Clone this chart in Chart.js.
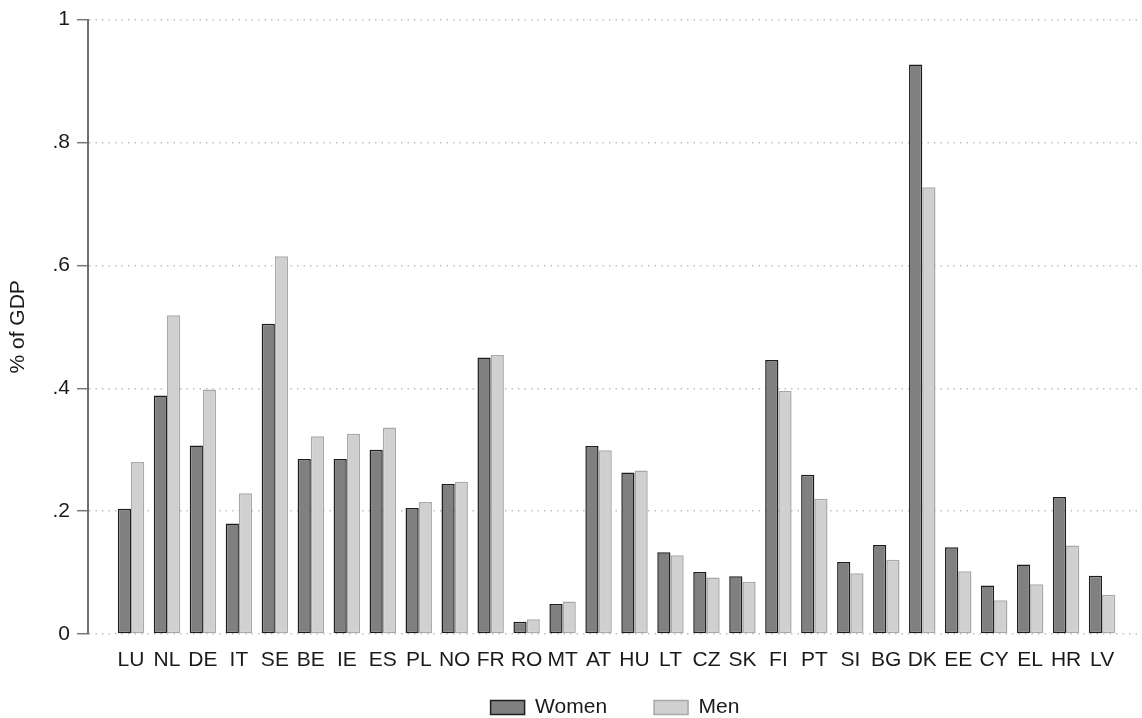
<!DOCTYPE html>
<html>
<head>
<meta charset="utf-8">
<script src="https://cdn.jsdelivr.net/npm/chart.js@4"></script>
<style>
  html, body { margin: 0; padding: 0; background: #fff; overflow: hidden; }
  #wrap { width: 1142px; height: 728px; }
</style>
</head>
<body>
<div id="wrap"><canvas id="chart"></canvas></div>
<script>
// countries in display order
const countries = ['LU', 'NL', 'DE', 'IT', 'SE', 'BE', 'IE', 'ES', 'PL', 'NO', 'FR', 'RO', 'MT', 'AT', 'HU',
    'LT', 'CZ', 'SK', 'FI', 'PT', 'SI', 'BG', 'DK', 'EE', 'CY', 'EL', 'HR', 'LV'];

// % of GDP
const women = [0.204, 0.388, 0.307, 0.180, 0.505, 0.285, 0.285, 0.300, 0.205, 0.244, 0.450, 0.020, 0.049, 0.306,
    0.263, 0.133, 0.101, 0.094, 0.446, 0.259, 0.117, 0.145, 0.927, 0.141, 0.079, 0.113, 0.223, 0.095];
const men = [0.280, 0.519, 0.398, 0.229, 0.615, 0.322, 0.326, 0.336, 0.215, 0.248, 0.454, 0.024, 0.053, 0.299,
    0.266, 0.128, 0.092, 0.085, 0.396, 0.220, 0.099, 0.121, 0.727, 0.102, 0.055, 0.081, 0.144, 0.064];

const yTicks = [0, 0.2, 0.4, 0.6, 0.8, 1];

const font = "'Liberation Sans', Arial, sans-serif";

// bars on a linear x axis so the first group can sit away from the y axis
function toPoints(values) {
    return values.map((v, i) => ({ x: i, y: v }));
}

new Chart(document.getElementById('chart').getContext('2d'), {
    type: 'bar',
    data: {
        datasets: [
            {
                label: 'Women',
                data: toPoints(women),
                backgroundColor: '#808080',
                borderColor: '#1e1e1e',
                borderWidth: 1.5,
                borderSkipped: false,
                categoryPercentage: 0.735,
                barPercentage: 1.0,
            },
            {
                label: 'Men',
                data: toPoints(men),
                backgroundColor: '#d0d0d0',
                borderColor: '#a8a8a8',
                borderWidth: 1.5,
                borderSkipped: false,
                categoryPercentage: 0.735,
                barPercentage: 1.0,
            },
        ],
    },
    options: {
        responsive: true,
        maintainAspectRatio: false,
        animation: false,
        layout: { padding: { left: 0, right: 0, top: 1, bottom: 0 } },
        plugins: {
            tooltip: { enabled: false },
            legend: {
                position: 'bottom',
                fullSize: false,
                labels: {
                    boxWidth: 34,
                    boxHeight: 14,
                    padding: 47,
                    color: '#1a1a1a',
                    font: { family: font, size: 21 },
                },
            },
        },
        scales: {
            x: {
                type: 'linear',
                offset: false,
                min: -1.196,
                max: 28.11,
                grid: { display: false, offset: false },
                border: { display: false },
                ticks: {
                    stepSize: 1,
                    autoSkip: false,
                    includeBounds: false,
                    maxRotation: 0,
                    // mirrored with negative padding: labels sit below the axis without being clipped
                    mirror: true,
                    padding: -39,
                    color: '#1a1a1a',
                    font: { family: font, size: 21 },
                    callback: v => (Number.isInteger(v) && countries[v]) ? countries[v] : '',
                },
                afterFit: s => { s.height = 16; },
            },
            y: {
                min: 0,
                max: 1,
                afterBuildTicks: s => { s.ticks = yTicks.map(v => ({ value: v })); },
                grid: {
                    color: '#c0c0c0',
                    lineWidth: 1.4,
                    tickLength: 11,
                    tickColor: '#777',
                    tickWidth: 1.5,
                    tickBorderDash: [],
                },
                border: { display: true, color: '#707070', width: 2, dash: [1.5, 5] },
                ticks: {
                    padding: 7,
                    color: '#1a1a1a',
                    font: { family: font, size: 21 },
                    callback: v => (v === 0 || v === 1) ? String(v) : v.toFixed(1).replace(/^0/, ''),
                },
                title: {
                    display: true,
                    text: '% of GDP',
                    color: '#1a1a1a',
                    padding: { top: 6, bottom: 0 },
                    font: { family: font, size: 21 },
                },
                afterFit: s => { s.width = 88; },
            },
        },
    },
});
</script>
</body>
</html>
